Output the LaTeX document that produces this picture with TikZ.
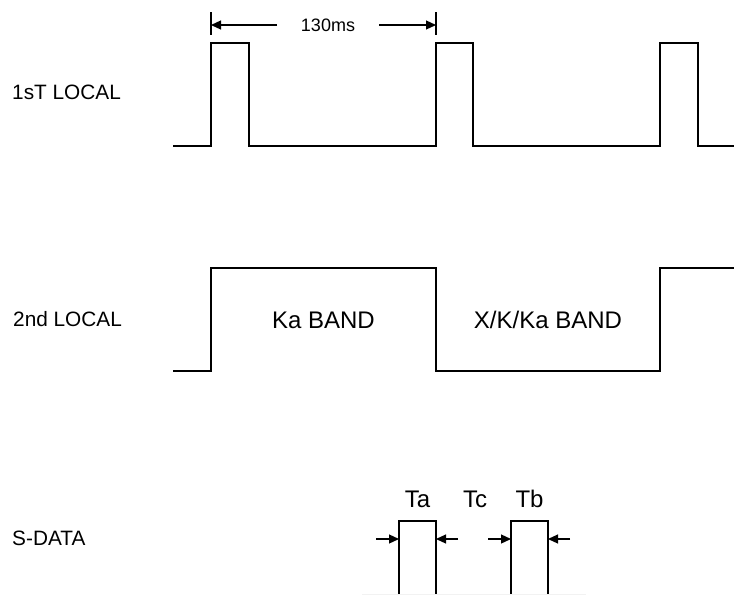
\documentclass[tikz,border=0pt]{standalone}
\usepackage{fontspec}
\setmainfont{Liberation Sans}
\usetikzlibrary{arrows.meta}
\begin{document}
\begin{tikzpicture}[x=1pt,y=-1pt,
  wave/.style={line width=1.4pt, line join=miter},
  extline/.style={line width=1.1pt},
  dimarrow/.style={line width=1.2pt, -{Triangle[length=10pt,width=9pt]}},
  rowlabel/.style={anchor=base west, inner sep=0pt, font=\fontsize{20.8}{24}\selectfont},
  bandlabel/.style={anchor=base, inner sep=0pt, font=\fontsize{24}{28}\selectfont},
  tlabel/.style={anchor=base, inner sep=0pt, font=\fontsize{24}{28}\selectfont},
  dimlabel/.style={anchor=base, inner sep=0pt, font=\fontsize{18}{22}\selectfont}]
\useasboundingbox (0,0) rectangle (734,595);

% row labels
\node[rowlabel] (l1) at (12,99) {1sT LOCAL};
\node[rowlabel] (l2) at (13,326) {2nd LOCAL};
\node[rowlabel] (l3) at (12,545) {S-DATA};

% 1st local waveform
\draw[wave] (173,146) -- (211,146) -- (211,43) -- (249,43) -- (249,146)
  -- (436,146) -- (436,43) -- (473,43) -- (473,146)
  -- (660,146) -- (660,43) -- (698,43) -- (698,146) -- (734,146);

% 130ms dimension
\coordinate (e1t) at (211,12); \coordinate (e1b) at (211,35);
\coordinate (e2t) at (436,12); \coordinate (e2b) at (436,35);
\draw[extline] (e1t) -- (e1b);
\draw[extline] (e2t) -- (e2b);
\node[dimlabel] (dim) at (328,31.5) {130ms};
\coordinate (a1s) at (277,25); \coordinate (a1e) at (211,25);
\coordinate (a2s) at (379,25); \coordinate (a2e) at (436,25);
\draw[dimarrow] (a1s) -- (a1e);
\draw[dimarrow] (a2s) -- (a2e);

% 2nd local waveform
\draw[wave] (173,371) -- (211,371) -- (211,268) -- (436,268) -- (436,371)
  -- (660,371) -- (660,268) -- (734,268);
\node[bandlabel] (ka) at (323.5,328) {Ka BAND};
\node[bandlabel] (xk) at (548,328) {X/K/Ka BAND};

% S-DATA
\draw[wave] (399,595) -- (399,521) -- (436,521) -- (436,595);
\draw[wave] (511,595) -- (511,521) -- (548,521) -- (548,595);
\draw[black!5, line width=0.8pt] (362,594.5) -- (586,594.5);
\node[tlabel] (ta) at (417.5,507) {Ta};
\node[tlabel] (tc) at (475,507) {Tc};
\node[tlabel] (tb) at (529.5,507) {Tb};
\coordinate (p1) at (376,539); \coordinate (q1) at (399,539);
\coordinate (p2) at (458,539); \coordinate (q2) at (436,539);
\coordinate (p3) at (488,539); \coordinate (q3) at (511,539);
\coordinate (p4) at (570,539); \coordinate (q4) at (548,539);
\draw[dimarrow] (p1) -- (q1);
\draw[dimarrow] (p2) -- (q2);
\draw[dimarrow] (p3) -- (q3);
\draw[dimarrow] (p4) -- (q4);
\end{tikzpicture}
\end{document}
